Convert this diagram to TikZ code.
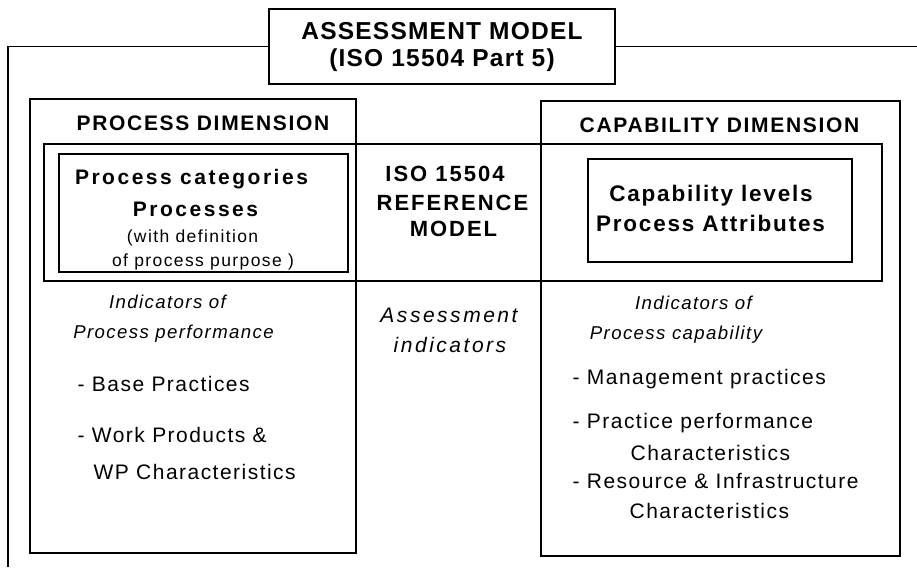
\documentclass[tikz,border=0pt]{standalone}
\usepackage{fontspec}
\setmainfont{Liberation Sans}
\usepackage{tikz}

\newcommand\lsp[1]{\addfontfeature{LetterSpace=#1}}

\tikzset{
  box/.style={draw, inner sep=0pt},
  txt/.style={anchor=base, inner sep=0pt},
  ltxt/.style={anchor=base west, inner sep=0pt},
  ttl/.style={font=\fontsize{24.5}{27}\selectfont\bfseries\lsp{5}},
  hdr/.style={txt, font=\fontsize{21}{25}\selectfont\bfseries\lsp{8}},
  bigb/.style={txt, font=\fontsize{21}{25}\selectfont\bfseries\lsp{12}},
  capb/.style={txt, font=\fontsize{22.5}{27}\selectfont\bfseries\lsp{8}},
  refb/.style={txt, font=\fontsize{22}{26}\selectfont\bfseries\lsp{9}},
  small/.style={txt, font=\fontsize{17.5}{20}\selectfont\lsp{8}},
  ital/.style={txt, font=\fontsize{18.6}{22}\selectfont\itshape\lsp{7.5}},
  aital/.style={txt, font=\fontsize{21}{25}\selectfont\itshape\lsp{12}},
  item/.style={ltxt, font=\fontsize{21}{25}\selectfont\lsp{7}},
}

\begin{document}
\begin{tikzpicture}[x=1pt, y=-1pt, line width=1.3pt]

  \useasboundingbox (0,0) rectangle (917,567);

  % boxes
  \node[box, ttl, align=center, minimum width=346pt, minimum height=75pt] (title) at (442,46.5)
    {ASSESSMENT MODEL\\(ISO 15504 Part 5)};
  \node[box, minimum width=326pt, minimum height=454pt] (procdim) at (193,326) {};
  \node[box, minimum width=359pt, minimum height=455pt] (capdim) at (720.5,328.5) {};
  \node[box, minimum width=838pt, minimum height=137pt] (refmodel) at (463,212.5) {};
  \node[box, minimum width=289pt, minimum height=118pt] (proccat) at (203.5,213) {};
  \node[box, minimum width=264pt, minimum height=103pt] (caplev) at (720,210.5) {};

  % outer frame
  \coordinate (frameSW) at (8,567);
  \coordinate (frameE) at (917,46.5);
  \draw (frameSW) |- (title.west);
  \draw (title.east) -- (frameE);

  % texts
  \node[hdr] (prochdr) at (203,130) {PROCESS DIMENSION};
  \node[hdr] (caphdr) at (719.5,132) {CAPABILITY DIMENSION};

  \node[bigb] (pcA) at (191.5,184) {Process categories};
  \node[bigb] (pcB) at (195.5,216.5) {Processes};
  \node[small] (pcC) at (192.5,242.5) {(with definition};
  \node[small] (pcD) at (203,266) {of process purpose )};

  \node[refb] (refA) at (445,181) {ISO 15504};
  \node[refb] (refB) at (452.5,210.5) {REFERENCE};
  \node[refb] (refC) at (453.5,236.5) {MODEL};

  \node[capb] (clA) at (711,201) {Capability levels};
  \node[capb] (clB) at (710.5,231) {Process Attributes};

  \node[ital] (piA) at (167.5,308) {Indicators of};
  \node[ital] (piB) at (173.5,338) {Process performance};
  \node[aital] (aiA) at (449,322) {Assessment};
  \node[aital] (aiB) at (450,352) {indicators};
  \node[ital] (ciA) at (693.5,309) {Indicators of};
  \node[ital] (ciB) at (676,339) {Process capability};

  \node[item] (bp) at (77,391.5) {- Base Practices};
  \node[item] (wpA) at (77,442.5) {- Work Products \&};
  \node[item] (wpB) at (93,479) {WP Characteristics};

  \node[item] (mp) at (572,384) {- Management practices};
  \node[item] (ppA) at (572,428.5) {- Practice performance};
  \node[item] (ppB) at (630,460) {Characteristics};
  \node[item] (riA) at (572,488) {- Resource \& Infrastructure};
  \node[item] (riB) at (629,518) {Characteristics};

\end{tikzpicture}
\end{document}
